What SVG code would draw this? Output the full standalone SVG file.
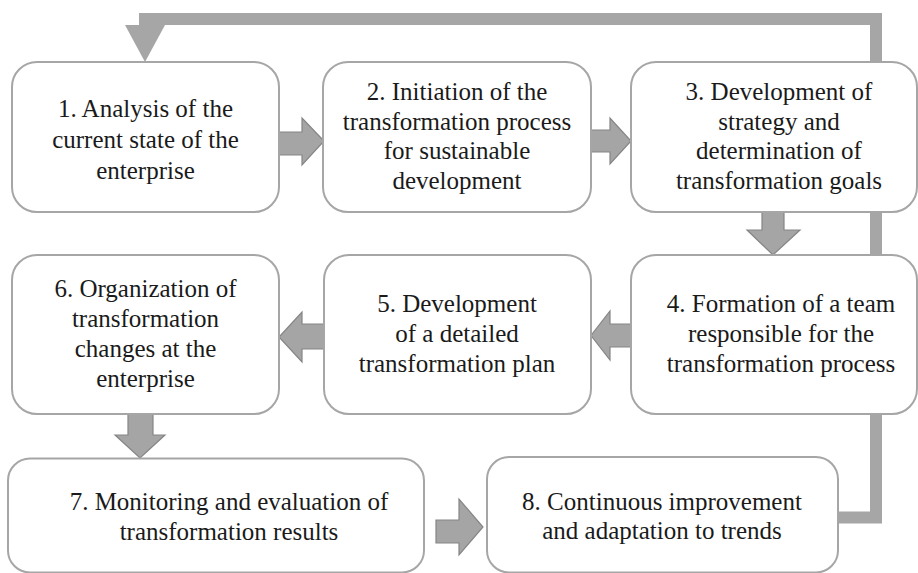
<svg xmlns="http://www.w3.org/2000/svg" width="918" height="573" viewBox="0 0 918 573">
  <style>
    .box { fill: #ffffff; stroke: #a6a6a6; stroke-width: 2; }
    .lbl { font-family: 'Liberation Serif', Tinos, 'Times New Roman', Times, 'Noto Serif', 'DejaVu Serif', serif; font-size: 25px; fill: #1a1a1a; text-anchor: middle; }
    .blk { fill: #a5a5a5; stroke: #858585; stroke-width: 1.2; stroke-linejoin: miter; }
    .loop { fill: none; stroke: #a6a6a6; stroke-width: 12; stroke-linejoin: miter; }
    .loophead { fill: #a6a6a6; }
  </style>
  <rect width="918" height="573" fill="#ffffff"/>

  <!-- connectors -->
  <g id="connectors">
    <!-- feedback loop from step 8 back to step 1 -->
    <polyline class="loop" points="838,517.5 876,517.5 876,19 145,19 145,26"/>
    <polygon class="loophead" points="125,25 165,25 145,62"/>
    <!-- 1 -> 2 -->
    <polygon class="blk" points="279,132 302,132 302,118 324,141 302,165 302,155 279,155"/>
    <!-- 2 -> 3 -->
    <polygon class="blk" points="591,130 610,130 610,118 631,141 610,164 610,152 591,152"/>
    <!-- 3 -> 4 -->
    <polygon class="blk" points="762,212 784,212 784,230 800,230 773,255 747,230 762,230"/>
    <!-- 4 -> 5 -->
    <polygon class="blk" points="631,324 610,324 610,311 591,335.5 610,360 610,347 631,347"/>
    <!-- 5 -> 6 -->
    <polygon class="blk" points="324,324 302,324 302,312 279,337 302,362 302,349 324,349"/>
    <!-- 6 -> 7 -->
    <polygon class="blk" points="128,414 153,414 153,435 165,435 140,458 115,435 128,435"/>
    <!-- 7 -> 8 -->
    <polygon class="blk" points="436,520 459,520 459,499 483,527 459,555 459,543 436,543"/>
  </g>

  <g id="step1">
    <rect class="box" x="12" y="62" width="267" height="150" rx="25"/>
    <text class="lbl" font-family="Liberation Serif, serif" x="145.5" y="117">1. Analysis of the</text>
    <text class="lbl" font-family="Liberation Serif, serif" x="145.5" y="148">current state of the</text>
    <text class="lbl" font-family="Liberation Serif, serif" x="145.5" y="179">enterprise</text>
  </g>

  <g id="step2">
    <rect class="box" x="323" y="62" width="268" height="150" rx="25"/>
    <text class="lbl" x="457" y="100">2. Initiation of the</text>
    <text class="lbl" x="457" y="129.5">transformation process</text>
    <text class="lbl" x="457" y="159">for sustainable</text>
    <text class="lbl" x="457" y="188.5">development</text>
  </g>

  <g id="step3">
    <rect class="box" x="631" y="62" width="286" height="150" rx="25"/>
    <text class="lbl" x="779" y="100">3. Development of</text>
    <text class="lbl" x="779" y="129.5">strategy and</text>
    <text class="lbl" x="779" y="159">determination of</text>
    <text class="lbl" x="779" y="188.5">transformation goals</text>
  </g>

  <g id="step4">
    <rect class="box" x="631" y="255" width="286" height="159" rx="25"/>
    <text class="lbl" x="781" y="312">4. Formation of a team</text>
    <text class="lbl" x="781" y="342">responsible for the</text>
    <text class="lbl" x="781" y="372">transformation process</text>
  </g>

  <g id="step5">
    <rect class="box" x="324" y="255" width="267" height="159" rx="25"/>
    <text class="lbl" x="457" y="312">5. Development</text>
    <text class="lbl" x="457" y="342">of a detailed</text>
    <text class="lbl" x="457" y="372">transformation plan</text>
  </g>

  <g id="step6">
    <rect class="box" x="12" y="255" width="267" height="159" rx="25"/>
    <text class="lbl" x="145.5" y="297">6. Organization of</text>
    <text class="lbl" x="145.5" y="327">transformation</text>
    <text class="lbl" x="145.5" y="357">changes at the</text>
    <text class="lbl" x="145.5" y="387">enterprise</text>
  </g>

  <g id="step7">
    <rect class="box" x="8" y="458.5" width="416" height="114" rx="22"/>
    <text class="lbl" x="229" y="510">7. Monitoring and evaluation of</text>
    <text class="lbl" x="229" y="540">transformation results</text>
  </g>

  <g id="step8">
    <rect class="box" x="487" y="457" width="351" height="115.5" rx="22"/>
    <text class="lbl" x="662" y="510">8. Continuous improvement</text>
    <text class="lbl" x="662" y="539">and adaptation to trends</text>
  </g>
</svg>
